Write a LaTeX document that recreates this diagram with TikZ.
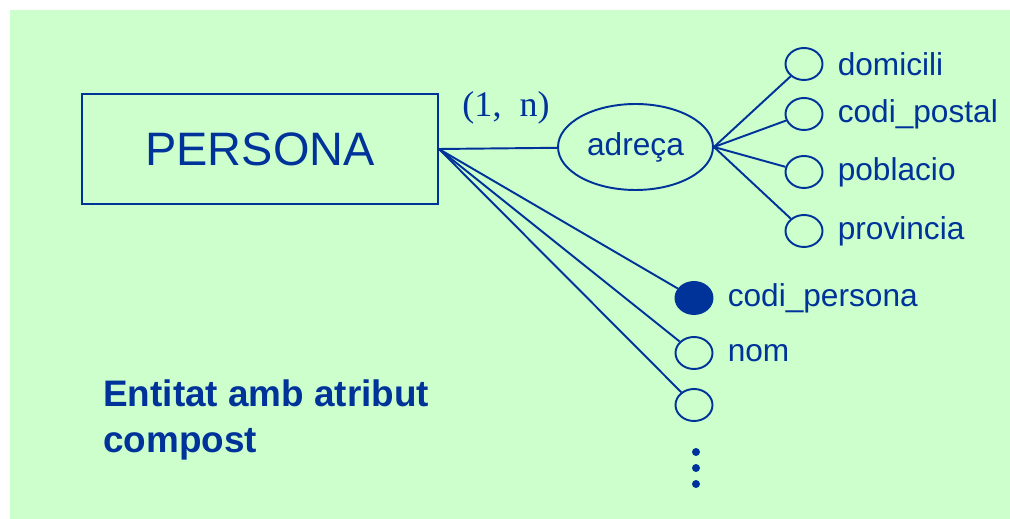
\documentclass[tikz,border=0pt]{standalone}
\usepackage{fontspec}
\setmainfont{Liberation Sans}
\newfontfamily\serifcard{Liberation Serif}
\usetikzlibrary{shapes.geometric}

\definecolor{erblue}{RGB}{0,51,153}
\definecolor{ergreen}{RGB}{204,255,204}

\begin{document}
\begin{tikzpicture}[x=0.02cm, y=-0.02cm, label distance=0.28cm,
    link/.style     = {draw=erblue, line width=1.1pt},
    entity/.style   = {link, rectangle, text=erblue, minimum width=7.12cm, minimum height=2.2cm,
                       font=\fontsize{26.7}{32}\selectfont},
    compound/.style = {link, ellipse, inner sep=0pt, text=erblue, minimum width=3.1cm,
                       minimum height=1.72cm, font=\fontsize{18}{22}\selectfont},
    attr/.style     = {link, ellipse, inner sep=0pt, minimum width=0.74cm, minimum height=0.64cm},
    keyattr/.style  = {attr, fill=erblue},
    attrname/.style = {text=erblue, inner sep=0pt, font=\fontsize{18}{22}\selectfont}]

    \useasboundingbox (0,0) rectangle (1010,519);
    \fill[ergreen] (10,10) rectangle (1010,519);

    % entitat i atribut compost
    \node[entity]   (persona) at (260,149)   {PERSONA};
    \node[compound] (adreca)  at (635.5,147) {adreça};
    \node[text=erblue, font=\serifcard\fontsize{20.5}{24}\selectfont] (card) at (506,108) {(1,\ \ n)};

    % components de l'adreça
    \node[attr, label={[attrname]right:domicili}]    (domicili)   at (804,64)  {};
    \node[attr, label={[attrname]right:codi\_postal}] (codipostal) at (804,114) {};
    \node[attr, label={[attrname]right:poblacio}]    (poblacio)   at (804,172) {};
    \node[attr, label={[attrname]right:provincia}]   (provincia)  at (804,231) {};

    % atributs simples
    \node[keyattr, label={[attrname]right:codi\_persona}] (codipersona) at (694,298) {};
    \node[attr, label={[attrname]right:nom}] (nom)  at (694,353) {};
    \node[attr]                              (altre) at (694,405) {};

    \draw[link] (persona.east) -- (adreca);
    \draw[link] (persona.east) -- (codipersona);
    \draw[link] (persona.east) -- (nom);
    \draw[link] (persona.east) -- (altre);

    \draw[link] (adreca.east) -- (domicili);
    \draw[link] (adreca.east) -- (codipostal);
    \draw[link] (adreca.east) -- (poblacio);
    \draw[link] (adreca.east) -- (provincia);

    % punts suspensius
    \fill[erblue] (696,452) circle (4) (696,468) circle (4) (696,484) circle (4);

    \node[anchor=base west, align=left, inner sep=0pt, text=erblue,
          font=\bfseries\fontsize{21}{26.7}\selectfont] (caption) at (103,453)
          {Entitat amb atribut\\compost};

\end{tikzpicture}
\end{document}
